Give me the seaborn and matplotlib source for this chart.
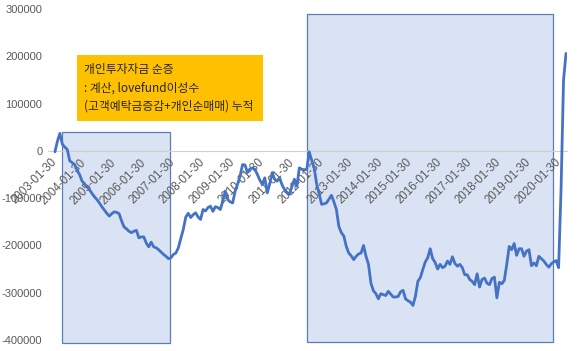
import numpy as np
import pandas as pd
import matplotlib
matplotlib.use("Agg")
import matplotlib.pyplot as plt
from matplotlib.patches import Rectangle
import seaborn as sns

# monthly cumulative values, 2003-01 .. 2020-04
values = [
    -2000, 20000, 37000, 14000, 8000, 3000, -21000, -25000, -29000, -42000, -50000, -64000,
    -70000, -76000, -82000, -90000, -97000, -103000, -110000, -118000, -125000, -132000, -138000, -133000,
    -129000, -130000, -133000, -148000, -161000, -165000, -170000, -173000, -170000, -168000, -184000, -182000,
    -182000, -195000, -203000, -193000, -203000, -205000, -209000, -214000, -219000, -223000, -228000, -226000,
    -219000, -216000, -205000, -185000, -166000, -140000, -132000, -141000, -135000, -131000, -140000, -145000,
    -124000, -127000, -120000, -117000, -128000, -118000, -120000, -124000, -106000, -85000, -103000, -108000,
    -110000, -85000, -70000, -53000, -29000, -30000, -46000, -38000, -36000, -39000, -50000, -62000,
    -71000, -57000, -89000, -70000, -46000, -60000, -64000, -57000, -72000, -82000, -88000, -92000,
    -75000, -60000, -75000, -36000, -39000, -40000, -39000, -2000, -20000, -36000, -70000, -90000,
    -113000, -112000, -110000, -102000, -94000, -108000, -124000, -160000, -173000, -180000, -202000, -216000,
    -222000, -230000, -223000, -218000, -216000, -200000, -223000, -240000, -280000, -296000, -302000, -313000,
    -302000, -304000, -306000, -297000, -303000, -309000, -309000, -308000, -298000, -295000, -313000, -317000,
    -320000, -327000, -308000, -276000, -268000, -251000, -235000, -226000, -207000, -228000, -236000, -250000,
    -240000, -247000, -244000, -233000, -240000, -224000, -238000, -244000, -240000, -247000, -262000, -262000,
    -272000, -276000, -283000, -260000, -288000, -272000, -269000, -280000, -283000, -270000, -267000, -311000,
    -278000, -281000, -274000, -240000, -202000, -209000, -196000, -221000, -207000, -207000, -223000, -212000,
    -209000, -243000, -237000, -243000, -223000, -228000, -233000, -240000, -246000, -239000, -235000, -232000,
    -247000, -80000, 150000, 206000,
]
dates = [d.strftime("%Y-%m-30") for d in pd.date_range("2003-01-01", periods=len(values), freq="MS")]
tick_labels = [f"{y}-01-30" for y in range(2003, 2021)]
y_ticks = [300000, 200000, 100000, 0, -100000, -200000, -300000, -400000]

# shaded periods (month index from 2003-01) and their vertical extents
period_start = [2.8, 102.1]
period_end = [46.6, 201.7]
period_top = [40000, 289000]
period_bottom = [-406000, -404000]

title_lines = ["개인투자자금 순증", ": 계산, lovefund이성수", "(고객예탁금증감+개인순매매) 누적"]

df = pd.DataFrame({"idx": np.arange(len(values)), "date": dates, "value": values})

sns.set_theme(style="white")
plt.rcParams["font.family"] = ["Liberation Sans", "DejaVu Sans"]

fig = plt.figure(figsize=(5.8, 3.51), dpi=100)
ax = fig.add_axes([48 / 580, 1 - 340 / 351, (567 - 48) / 580, (340 - 9) / 351])
ax.set_axisbelow(False)

for s, e, t, b in zip(period_start, period_end, period_top, period_bottom):
    ax.add_patch(Rectangle((s, b), e - s, t - b, facecolor="#DAE3F3",
                           edgecolor="#5A7DB5", lw=0.9, zorder=1, clip_on=False))

sns.lineplot(data=df, x="idx", y="value", ax=ax, color="#4472C4", lw=2.0, zorder=4)

# spines first (moving a spine resets tick label properties)
for sp in ["left", "right", "top"]:
    ax.spines[sp].set_visible(False)
ax.spines["bottom"].set_position(("data", 0))
ax.spines["bottom"].set_color("#D0D0D0")
ax.spines["bottom"].set_linewidth(0.8)
ax.spines["bottom"].set_zorder(2)
ax.grid(False)

ax.set_xlim(-2.8, 207.4)
ax.set_ylim(-400000, 300000)
ax.set_xlabel("")
ax.set_ylabel("")

ax.set_yticks(y_ticks)
ax.set_yticklabels([str(v) for v in y_ticks], fontsize=8, color="#595959")
ax.tick_params(axis="y", length=0, pad=4)

xt = [dates.index(lbl) for lbl in tick_labels if lbl in dates]
ax.set_xticks(xt)
ax.tick_params(axis="x", length=3, width=0.8, color="#BFBFBF", pad=4, direction="out")
ax.set_xticklabels([dates[i] for i in xt], fontsize=8.3, color="#595959",
                   rotation=45, ha="right", va="center", rotation_mode="anchor")

# annotation box
fig.add_artist(Rectangle((77 / 580, 1 - 121 / 351), 186 / 580, 66 / 351,
                         transform=fig.transFigure, facecolor="#FFC000",
                         edgecolor="none", zorder=5))
for i, line in enumerate(title_lines):
    fig.text(84 / 580, 1 - (70 + 18 * i) / 351, line, fontsize=8.5, color="#262626",
             va="center", ha="left", zorder=6,
             family=["Noto Sans CJK KR", "DejaVu Sans"])

fig.savefig("out.png", dpi=100)
